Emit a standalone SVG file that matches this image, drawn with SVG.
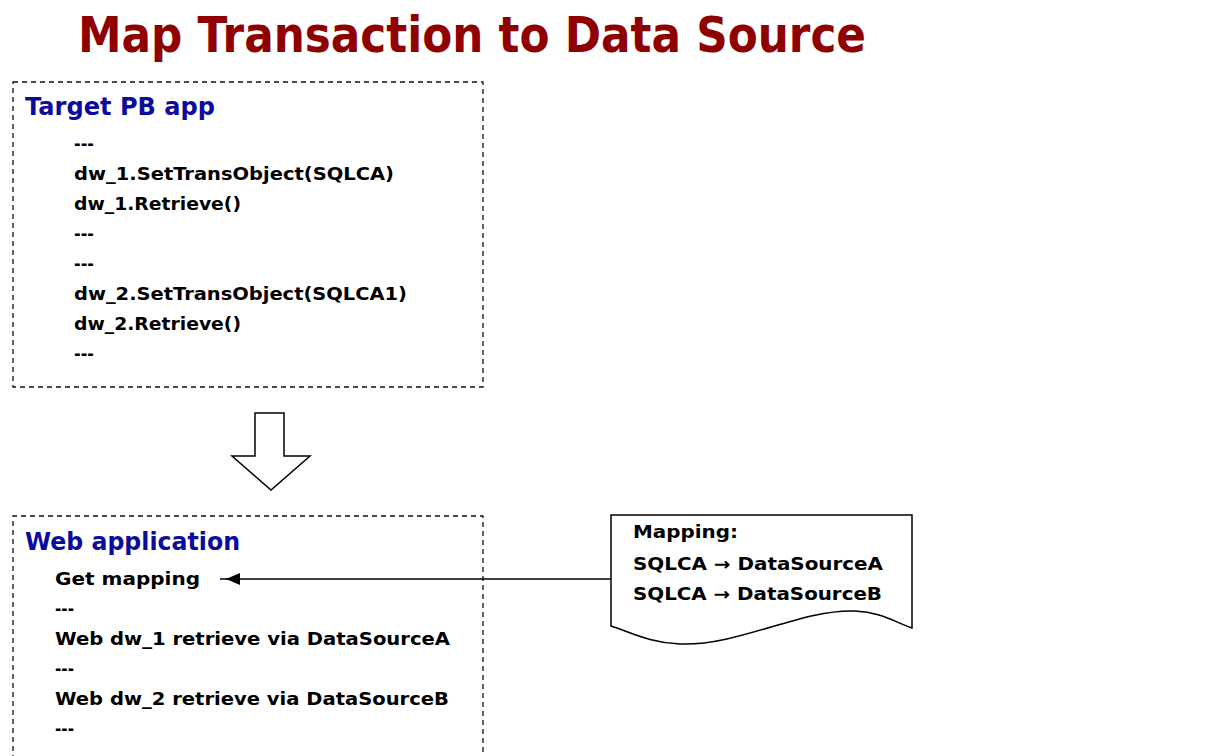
<svg xmlns="http://www.w3.org/2000/svg" width="1206" height="756" viewBox="0 0 1206 756">
<style>
.title{font-family:"DejaVu Sans",Verdana,sans-serif;font-weight:bold;font-size:50px;fill:#8f0000}
.head{font-family:"DejaVu Sans",Verdana,sans-serif;font-weight:bold;font-size:24px;fill:#0c0c9c}
.code{font-family:"DejaVu Sans",Verdana,sans-serif;font-weight:bold;font-size:17.5px;fill:#000}
.box{fill:none;stroke:#111;stroke-width:1.3;stroke-dasharray:5,4}
.shape{fill:#fff;stroke:#000;stroke-width:1.5}
</style>
<defs>
<marker id="ah" viewBox="0 0 14 12" refX="14" refY="6" markerWidth="14" markerHeight="12" markerUnits="userSpaceOnUse" orient="auto">
<path d="M14,6 L0,0 L0,12 Z" fill="#000"/>
</marker>
</defs>
<rect width="1206" height="756" fill="#fff"/>
<text class="title" x="78" y="52" textLength="788" lengthAdjust="spacingAndGlyphs">Map Transaction to Data Source</text>

<g id="target-pb-app">
<rect class="box" x="13" y="82" width="470" height="305"/>
<text class="head" x="25" y="115" textLength="190" lengthAdjust="spacingAndGlyphs">Target PB app</text>
<text class="code" x="74" y="150" textLength="20" lengthAdjust="spacingAndGlyphs">---</text>
<text class="code" x="74" y="180" textLength="320" lengthAdjust="spacingAndGlyphs">dw_1.SetTransObject(SQLCA)</text>
<text class="code" x="74" y="210" textLength="167" lengthAdjust="spacingAndGlyphs">dw_1.Retrieve()</text>
<text class="code" x="74" y="240" textLength="20" lengthAdjust="spacingAndGlyphs">---</text>
<text class="code" x="74" y="270" textLength="20" lengthAdjust="spacingAndGlyphs">---</text>
<text class="code" x="74" y="300" textLength="333" lengthAdjust="spacingAndGlyphs">dw_2.SetTransObject(SQLCA1)</text>
<text class="code" x="74" y="330" textLength="167" lengthAdjust="spacingAndGlyphs">dw_2.Retrieve()</text>
<text class="code" x="74" y="360" textLength="20" lengthAdjust="spacingAndGlyphs">---</text>
</g>

<g id="down-arrow">
<path class="shape" d="M255,413 L284,413 L284,456 L310,456 L271,490 L232,456 L255,456 Z"/>
</g>

<g id="web-application">
<path class="box" d="M13,760 L13,516 L483,516 L483,760"/>
<text class="head" x="25" y="550" textLength="215" lengthAdjust="spacingAndGlyphs">Web application</text>
<text class="code" x="55" y="585" textLength="145" lengthAdjust="spacingAndGlyphs">Get mapping</text>
<text class="code" x="55" y="615" textLength="19" lengthAdjust="spacingAndGlyphs">---</text>
<text class="code" x="55" y="645" textLength="395" lengthAdjust="spacingAndGlyphs">Web dw_1 retrieve via DataSourceA</text>
<text class="code" x="55" y="675" textLength="19" lengthAdjust="spacingAndGlyphs">---</text>
<text class="code" x="55" y="705" textLength="394" lengthAdjust="spacingAndGlyphs">Web dw_2 retrieve via DataSourceB</text>
<text class="code" x="55" y="735" textLength="19" lengthAdjust="spacingAndGlyphs">---</text>
</g>

<g id="mapping-document">
<path class="shape" d="M611,515 L912,515 L912,628 C895,622 880,612 855,611 C800,609 740,646 680,644 C650,643 630,632 611,626 Z"/>
<text class="code" x="633" y="538" textLength="105" lengthAdjust="spacingAndGlyphs">Mapping:</text>
<text class="code" x="633" y="570" textLength="250" lengthAdjust="spacingAndGlyphs">SQLCA → DataSourceA</text>
<text class="code" x="633" y="600" textLength="249" lengthAdjust="spacingAndGlyphs">SQLCA → DataSourceB</text>
</g>

<g id="connectors">
<line x1="611" y1="579" x2="226" y2="579" stroke="#000" stroke-width="1.5" marker-end="url(#ah)"/>
<line x1="220" y1="579" x2="228" y2="579" stroke="#000" stroke-width="1.5"/>
</g>
</svg>
